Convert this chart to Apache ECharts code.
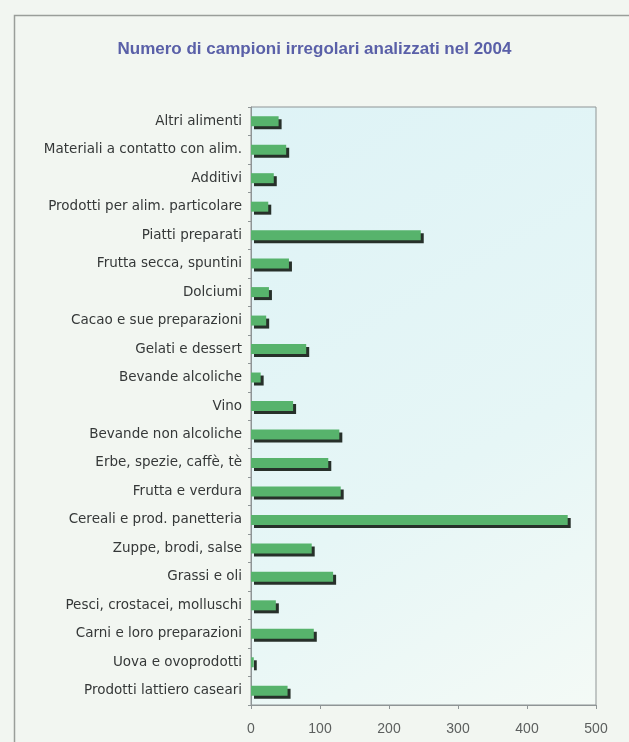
<!DOCTYPE html>
<html>
<head>
<meta charset="utf-8">
<script src="https://cdn.jsdelivr.net/npm/echarts@6/dist/echarts.min.js"></script>
<style>
  html, body { margin: 0; padding: 0; background: #f2f6f1; }
  #chart { width: 629px; height: 742px; }
</style>
</head>
<body>
<div id="chart"></div>
<script>
// Food categories, listed from top to bottom
const categories = [
  'Altri alimenti',
  'Materiali a contatto con alim.',
  'Additivi',
  'Prodotti per alim. particolare',
  'Piatti preparati',
  'Frutta secca, spuntini',
  'Dolciumi',
  'Cacao e sue preparazioni',
  'Gelati e dessert',
  'Bevande alcoliche',
  'Vino',
  'Bevande non alcoliche',
  'Erbe, spezie, caffè, tè',
  'Frutta e verdura',
  'Cereali e prod. panetteria',
  'Zuppe, brodi, salse',
  'Grassi e oli',
  'Pesci, crostacei, molluschi',
  'Carni e loro preparazioni',
  'Uova e ovoprodotti',
  'Prodotti lattiero caseari'
];

// Irregular samples per category (2004)
const irregularSamples = [
  40, 51, 33, 25, 246, 55, 26, 22, 80, 14, 61,
  128, 112, 130, 459, 88, 119, 36, 91, 4, 53
];

const xTicks = [0, 100, 200, 300, 400, 500];

const FONT = 'DejaVu Sans, Liberation Sans, Arial, sans-serif';

const chart = echarts.init(document.getElementById('chart'));

chart.setOption({
  backgroundColor: '#f2f6f1',
  animation: false,
  title: {
    text: 'Numero di campioni irregolari analizzati nel 2004',
    left: 'center',
    top: 36,
    textStyle: {
      fontFamily: 'Liberation Sans, Arial, sans-serif',
      fontSize: 17,
      fontWeight: 'bold',
      color: '#5a60a8'
    }
  },
  graphic: [{
    type: 'rect',
    shape: { x: 14.5, y: 15.5, width: 700, height: 800 },
    style: { fill: 'none', stroke: '#9a9e9a', lineWidth: 1.5 },
    silent: true
  }],
  grid: {
    left: 251,
    right: 33,
    top: 107,
    bottom: 37,
    show: true,
    borderColor: '#8f9596',
    borderWidth: 1,
    backgroundColor: new echarts.graphic.LinearGradient(0, 0, 1, 1, [
      { offset: 0, color: '#def3f6' },
      { offset: 0.6, color: '#e6f6f6' },
      { offset: 1, color: '#f4faf6' }
    ])
  },
  xAxis: {
    type: 'value',
    min: xTicks[0],
    max: xTicks[xTicks.length - 1],
    interval: 100,
    splitLine: { show: false },
    axisLine: { show: true, lineStyle: { color: '#8f9596' } },
    axisTick: { show: true, length: 4, lineStyle: { color: '#8f9596' } },
    axisLabel: {
      margin: 17,
      fontFamily: 'Liberation Sans, Arial, sans-serif',
      fontSize: 14,
      color: '#5c5f5e'
    }
  },
  yAxis: {
    type: 'category',
    inverse: true,
    data: categories,
    axisLine: { show: true, lineStyle: { color: '#8f9596' } },
    axisTick: { show: true, length: 3, lineStyle: { color: '#8f9596' } },
    axisLabel: {
      margin: 9,
      fontFamily: FONT,
      fontSize: 13.5,
      color: '#353838'
    }
  },
  series: [{
    type: 'bar',
    data: irregularSamples,
    barWidth: 10,
    itemStyle: {
      color: '#57b36c',
      shadowColor: '#27302a',
      shadowOffsetX: 3,
      shadowOffsetY: 3,
      shadowBlur: 0
    }
  }]
});
</script>
</body>
</html>
